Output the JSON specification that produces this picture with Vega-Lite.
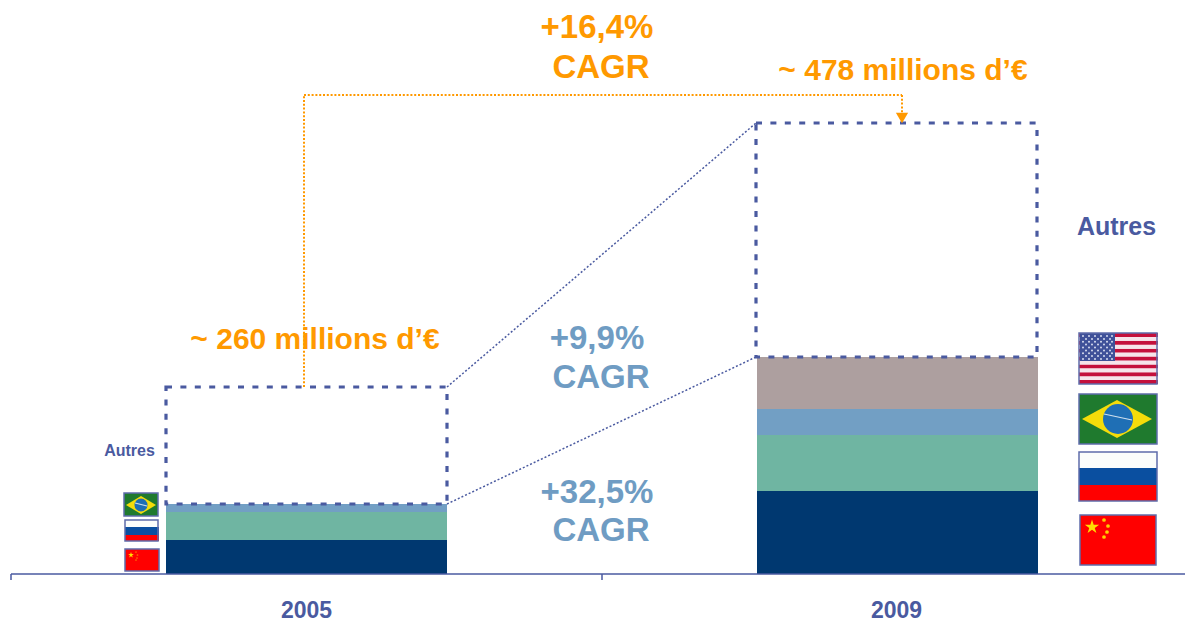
{
"$schema":"https://vega.github.io/schema/vega-lite/v6.json",
"width":1185,"height":621,"padding":0,"autosize":{"type":"none"},
"background":"white","config":{"view":{"stroke":null}},
"encoding":{
"x":{"field":"x","type":"quantitative","scale":{"domain":[0,1185],"nice":false,"zero":false},"axis":null},
"y":{"field":"y","type":"quantitative","scale":{"domain":[-47,574],"nice":false,"zero":false},"axis":null}
},
"layer":[
{"data":{"values":[
{"year":"2005","part":"Chine","x":166,"x2":447,"y":0,"y2":34},
{"year":"2005","part":"Russie","x":166,"x2":447,"y":34,"y2":62},
{"year":"2005","part":"Brésil","x":166,"x2":447,"y":62,"y2":70},
{"year":"2009","part":"Chine","x":757,"x2":1038,"y":0,"y2":83},
{"year":"2009","part":"Russie","x":757,"x2":1038,"y":83,"y2":139},
{"year":"2009","part":"Brésil","x":757,"x2":1038,"y":139,"y2":165},
{"year":"2009","part":"États-Unis","x":757,"x2":1038,"y":165,"y2":217},
{"part":"rouge","x":125,"x2":159,"y":3,"y2":25},
{"part":"blanc","x":125,"x2":158,"y":47,"y2":54},
{"part":"bleu","x":125,"x2":159,"y":39,"y2":47},
{"part":"rouge","x":125,"x2":159,"y":33,"y2":39},
{"part":"vert","x":124,"x2":158,"y":58,"y2":81},
{"part":"rouge","x":1080,"x2":1156,"y":9,"y2":59},
{"part":"blanc","x":1079,"x2":1157,"y":106,"y2":122},
{"part":"bleu","x":1079,"x2":1157,"y":89,"y2":106},
{"part":"rouge","x":1079,"x2":1157,"y":73,"y2":89},
{"part":"vert","x":1079,"x2":1157,"y":130,"y2":180},
{"part":"rayeR","x":1079,"x2":1158,"y":190,"y2":193.9},
{"part":"rayeB","x":1079,"x2":1158,"y":193.9,"y2":197.8},
{"part":"rayeR","x":1079,"x2":1158,"y":197.8,"y2":201.8},
{"part":"rayeB","x":1079,"x2":1158,"y":201.8,"y2":205.7},
{"part":"rayeR","x":1079,"x2":1158,"y":205.7,"y2":209.6},
{"part":"rayeB","x":1079,"x2":1158,"y":209.6,"y2":213.5},
{"part":"rayeR","x":1079,"x2":1158,"y":213.5,"y2":217.5},
{"part":"rayeB","x":1079,"x2":1158,"y":217.5,"y2":221.4},
{"part":"rayeR","x":1079,"x2":1158,"y":221.4,"y2":225.3},
{"part":"rayeB","x":1079,"x2":1158,"y":225.3,"y2":229.2},
{"part":"rayeR","x":1079,"x2":1158,"y":229.2,"y2":233.2},
{"part":"rayeB","x":1079,"x2":1158,"y":233.2,"y2":237.1},
{"part":"rayeR","x":1079,"x2":1158,"y":237.1,"y2":241},
{"part":"canton","x":1080,"x2":1115,"y":213,"y2":241}
]},
"mark":{"type":"rect"},
"encoding":{"x2":{"field":"x2"},"y2":{"field":"y2"},
"color":{"field":"part","type":"nominal","legend":null,"scale":{
"domain":["Chine","Russie","Brésil","États-Unis","rouge","blanc","bleu","vert","rayeR","rayeB","canton"],
"range":["#003870","#6fb5a2","#729fc4","#ad9f9f","#ff0000","#fbfdfb","#0a4fa0","#1f7a2e","#c4103c","#f6e4ea","#3f5199"]}}}},
{"data":{"values":[{"x":1117,"y":155}]},
"mark":{"type":"point","filled":true,"opacity":1,"color":"#f5dc0a","size":4900,"shape":"M-1,0L0,-0.54L1,0L0,0.54Z"}},
{"data":{"values":[{"x":141,"y":69}]},
"mark":{"type":"point","filled":true,"opacity":1,"color":"#f5dc0a","size":900,"shape":"M-1,0L0,-0.6L1,0L0,0.6Z"}},
{"data":{"values":[{"x":1118,"y":155}]},
"mark":{"type":"point","filled":true,"opacity":1,"color":"#1f6fb5","size":900,"shape":"circle"}},
{"data":{"values":[{"x":141,"y":69}]},
"mark":{"type":"point","filled":true,"opacity":1,"color":"#1f6fb5","size":170,"shape":"circle"}},
{"data":{"values":[{"x":1104,"y":160,"x2":1132,"y2":154},{"x":135,"y":71,"x2":147,"y2":68}]},
"mark":{"type":"rule","color":"#cfe0ee","strokeWidth":1.2},
"encoding":{"x2":{"field":"x2"},"y2":{"field":"y2"}}},
{"data":{"values":[{"x":1092,"y":47}]},
"mark":{"type":"point","filled":true,"opacity":1,"color":"#ffe000","size":225,"shape":"M0,-1L0.2245,-0.309L0.951,-0.309L0.363,0.118L0.588,0.809L0,0.382L-0.588,0.809L-0.363,0.118L-0.951,-0.309L-0.2245,-0.309Z"}},
{"data":{"values":[{"x":131,"y":19}]},
"mark":{"type":"point","filled":true,"opacity":1,"color":"#ffe000","size":36,"shape":"M0,-1L0.2245,-0.309L0.951,-0.309L0.363,0.118L0.588,0.809L0,0.382L-0.588,0.809L-0.363,0.118L-0.951,-0.309L-0.2245,-0.309Z"}},
{"data":{"values":[{"x":1104,"y":54},{"x":1108,"y":48},{"x":1107,"y":42},{"x":1104,"y":37}]},
"mark":{"type":"point","filled":true,"opacity":1,"color":"#ffd000","size":14,"shape":"circle"}},
{"data":{"values":[{"x":136,"y":22},{"x":137.5,"y":19},{"x":137,"y":16},{"x":136,"y":14}]},
"mark":{"type":"point","filled":true,"opacity":0.7,"color":"#ff9a00","size":3,"shape":"circle"}},
{"data":{"values":[
{"x":1083,"y":238},{"x":1089,"y":238},{"x":1095,"y":238},{"x":1101,"y":238},{"x":1107,"y":238},{"x":1112,"y":238},
{"x":1086,"y":235.1},{"x":1092,"y":235.1},{"x":1098,"y":235.1},{"x":1104,"y":235.1},{"x":1110,"y":235.1},
{"x":1083,"y":232.2},{"x":1089,"y":232.2},{"x":1095,"y":232.2},{"x":1101,"y":232.2},{"x":1107,"y":232.2},{"x":1112,"y":232.2},
{"x":1086,"y":229.4},{"x":1092,"y":229.4},{"x":1098,"y":229.4},{"x":1104,"y":229.4},{"x":1110,"y":229.4},
{"x":1083,"y":226.5},{"x":1089,"y":226.5},{"x":1095,"y":226.5},{"x":1101,"y":226.5},{"x":1107,"y":226.5},{"x":1112,"y":226.5},
{"x":1086,"y":223.6},{"x":1092,"y":223.6},{"x":1098,"y":223.6},{"x":1104,"y":223.6},{"x":1110,"y":223.6},
{"x":1083,"y":220.8},{"x":1089,"y":220.8},{"x":1095,"y":220.8},{"x":1101,"y":220.8},{"x":1107,"y":220.8},{"x":1112,"y":220.8},
{"x":1086,"y":217.9},{"x":1092,"y":217.9},{"x":1098,"y":217.9},{"x":1104,"y":217.9},{"x":1110,"y":217.9},
{"x":1083,"y":215},{"x":1089,"y":215},{"x":1095,"y":215},{"x":1101,"y":215},{"x":1107,"y":215},{"x":1112,"y":215}
]},
"mark":{"type":"point","filled":true,"opacity":0.9,"color":"#e8ecf8","size":4,"shape":"circle"}},
{"data":{"values":[
{"x":125,"x2":159,"y":3,"y2":25},{"x":125,"x2":158,"y":33,"y2":54},{"x":124,"x2":158,"y":58,"y2":81},
{"x":1080,"x2":1156,"y":9,"y2":59},{"x":1079,"x2":1157,"y":73,"y2":122},{"x":1079,"x2":1157,"y":130,"y2":180},{"x":1079,"x2":1157,"y":190,"y2":241}
]},
"mark":{"type":"rect","fill":"transparent","stroke":"#5f6cab","strokeWidth":1.5},
"encoding":{"x2":{"field":"x2"},"y2":{"field":"y2"}}},
{"data":{"values":[{"x":166,"x2":447,"y":70,"y2":187},{"x":756,"x2":1037,"y":217,"y2":451}]},
"mark":{"type":"rect","fill":"transparent","stroke":"#4a5aa0","strokeWidth":3.2,"strokeDash":[6,8.4]},
"encoding":{"x2":{"field":"x2"},"y2":{"field":"y2"}}},
{"data":{"values":[{"x":447,"y":187,"x2":756,"y2":451},{"x":447,"y":70,"x2":756,"y2":217}]},
"mark":{"type":"rule","color":"#4a5aa0","strokeWidth":1.5,"strokeDash":[2,2]},
"encoding":{"x2":{"field":"x2"},"y2":{"field":"y2"}}},
{"data":{"values":[{"x":304,"y":187,"x2":304,"y2":479},{"x":304,"y":479,"x2":902,"y2":479},{"x":902,"y":479,"x2":902,"y2":461}]},
"mark":{"type":"rule","color":"#ff9900","strokeWidth":2,"strokeDash":[2,1.8]},
"encoding":{"x2":{"field":"x2"},"y2":{"field":"y2"}}},
{"data":{"values":[{"x":902,"y":456}]},
"mark":{"type":"point","filled":true,"opacity":1,"color":"#ff9900","size":150,"shape":"triangle-down"}},
{"data":{"values":[{"x":11,"y":0,"x2":1185,"y2":0},{"x":11,"y":0,"x2":11,"y2":-6},{"x":602,"y":0,"x2":602,"y2":-6}]},
"mark":{"type":"rule","color":"#4a5aa0","strokeWidth":1.5},
"encoding":{"x2":{"field":"x2"},"y2":{"field":"y2"}}},
{"data":{"values":[{"x":597,"y":546,"label":"+16,4%"},{"x":601,"y":506,"label":"CAGR"}]},
"mark":{"type":"text","font":"Liberation Sans","fontWeight":"bold","fontSize":33,"color":"#ff9900"},
"encoding":{"text":{"field":"label"}}},
{"data":{"values":[{"x":903,"y":503,"label":"~ 478 millions d’€"},{"x":315,"y":234,"label":"~ 260 millions d’€"}]},
"mark":{"type":"text","font":"Liberation Sans","fontWeight":"bold","fontSize":30,"color":"#ff9900"},
"encoding":{"text":{"field":"label"}}},
{"data":{"values":[{"x":597,"y":235,"label":"+9,9%"},{"x":601,"y":196,"label":"CAGR"},{"x":597,"y":81,"label":"+32,5%"},{"x":601,"y":43,"label":"CAGR"}]},
"mark":{"type":"text","font":"Liberation Sans","fontWeight":"bold","fontSize":33,"color":"#6f9cc3"},
"encoding":{"text":{"field":"label"}}},
{"data":{"values":[{"x":1116.5,"y":347,"label":"Autres"}]},
"mark":{"type":"text","font":"Liberation Sans","fontWeight":"bold","fontSize":25,"color":"#4a5aa0"},
"encoding":{"text":{"field":"label"}}},
{"data":{"values":[{"x":129.5,"y":123,"label":"Autres"}]},
"mark":{"type":"text","font":"Liberation Sans","fontWeight":"bold","fontSize":16,"color":"#4a5aa0"},
"encoding":{"text":{"field":"label"}}},
{"data":{"values":[{"x":306.5,"y":-37,"label":"2005"},{"x":896.5,"y":-37,"label":"2009"}]},
"mark":{"type":"text","font":"Liberation Sans","fontWeight":"bold","fontSize":23,"color":"#4a5aa0"},
"encoding":{"text":{"field":"label"}}}
]
}
